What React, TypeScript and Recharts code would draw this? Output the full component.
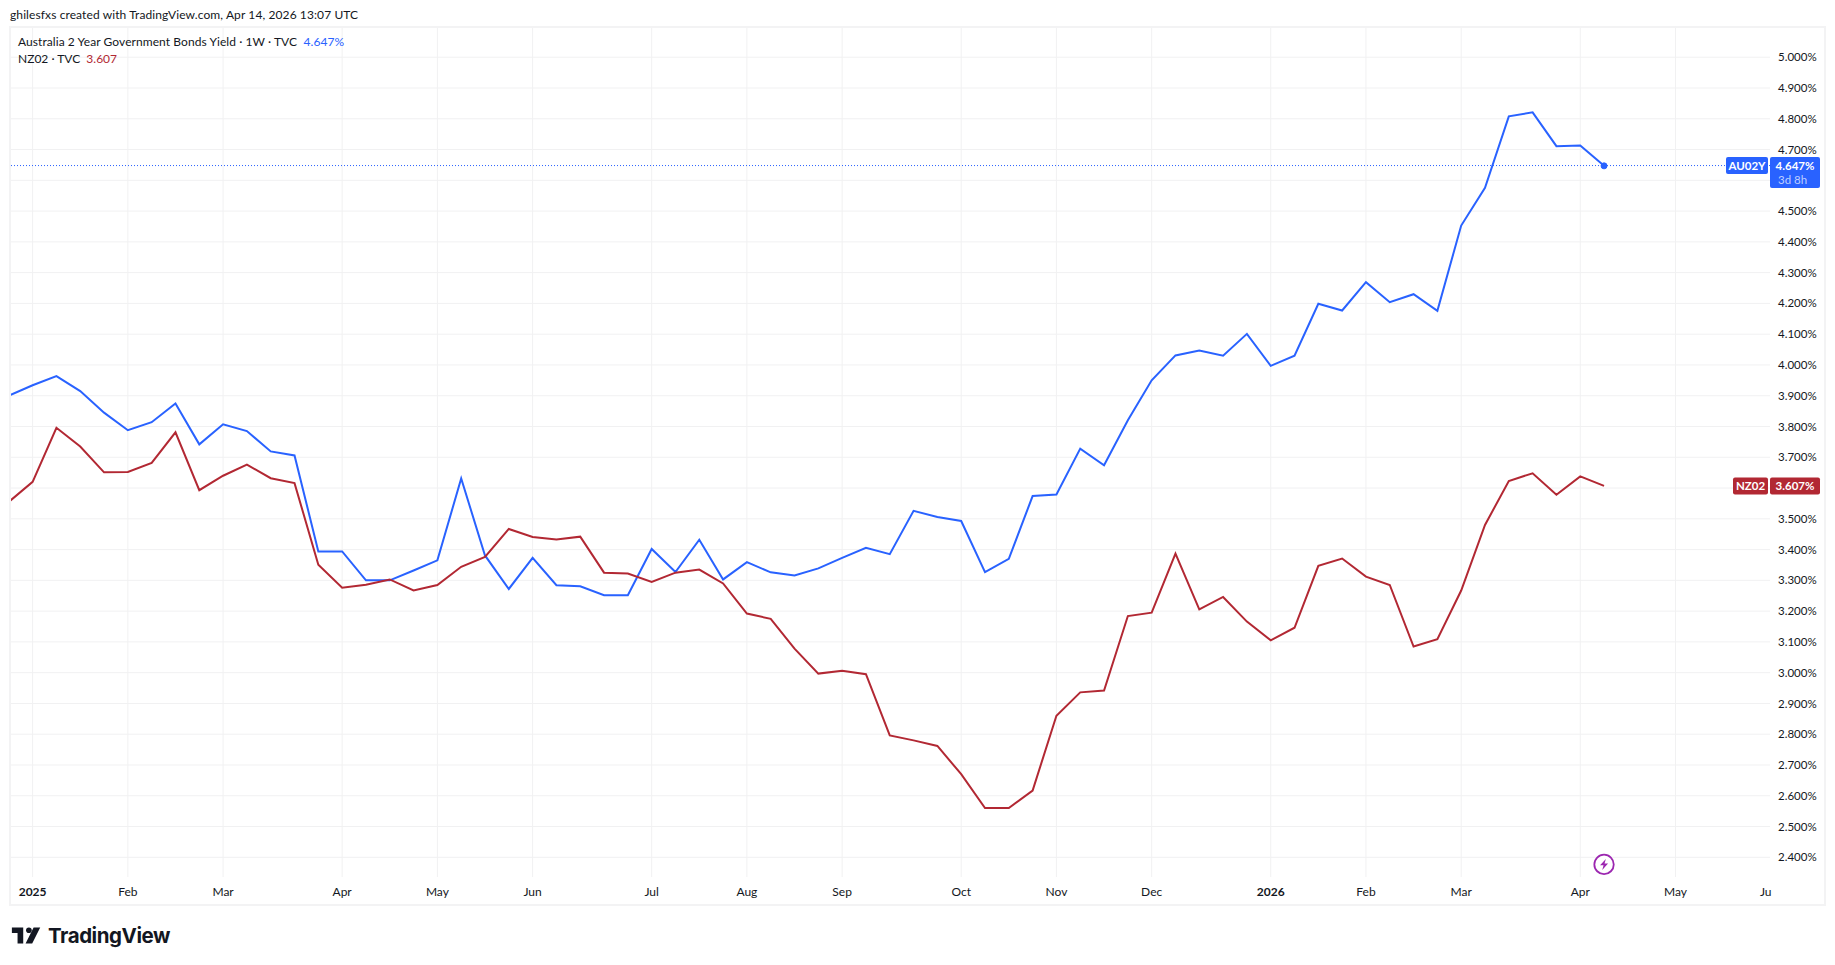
import React from 'react';
import {
  LineChart,
  Line,
  XAxis,
  YAxis,
  CartesianGrid,
  ReferenceLine,
  ReferenceDot,
} from 'recharts';

const au02y = [
  3.9, 3.934, 3.964, 3.915, 3.845, 3.788, 3.814, 3.875, 3.742, 3.807, 3.785, 3.719, 3.706, 3.394,
  3.394, 3.3, 3.3, 3.332, 3.365, 3.631, 3.381, 3.272, 3.373, 3.284, 3.281, 3.252, 3.252, 3.402,
  3.327, 3.432, 3.303, 3.359, 3.326, 3.316, 3.339, 3.373, 3.406, 3.385, 3.526, 3.506, 3.493, 3.327,
  3.37, 3.574, 3.579, 3.728, 3.674, 3.82, 3.95, 4.031, 4.047, 4.03, 4.101, 3.997, 4.03, 4.199,
  4.177, 4.269, 4.204, 4.23, 4.176, 4.453, 4.576, 4.808, 4.821, 4.711, 4.713, 4.647,
];

const nz02 = [
  3.555, 3.62, 3.796, 3.735, 3.651, 3.652, 3.682, 3.781, 3.593, 3.64, 3.676, 3.632, 3.616, 3.351,
  3.276, 3.286, 3.303, 3.267, 3.285, 3.344, 3.376, 3.467, 3.441, 3.433, 3.442, 3.325, 3.322, 3.295,
  3.325, 3.335, 3.29, 3.192, 3.175, 3.078, 2.997, 3.006, 2.995, 2.796, 2.78, 2.762, 2.67, 2.56,
  2.56, 2.617, 2.86, 2.936, 2.942, 3.184, 3.195, 3.387, 3.206, 3.246, 3.166, 3.105, 3.146, 3.347,
  3.371, 3.312, 3.285, 3.085, 3.109, 3.267, 3.48, 3.623, 3.648, 3.578, 3.638, 3.607,
];

// week index of each month label on the time axis
const monthWeeks = [1, 5, 9, 14, 18, 22, 27, 31, 35, 40, 44, 48, 53, 57, 61, 66, 70, 74];
const monthLabels = ['2025', 'Feb', 'Mar', 'Apr', 'May', 'Jun', 'Jul', 'Aug', 'Sep', 'Oct', 'Nov', 'Dec', '2026', 'Feb', 'Mar', 'Apr', 'May', 'Ju'];

const yieldTicks = [
  2.4, 2.5, 2.6, 2.7, 2.8, 2.9, 3.0, 3.1, 3.2, 3.3, 3.4, 3.5, 3.6, 3.7, 3.8, 3.9, 4.0, 4.1, 4.2, 4.3,
  4.4, 4.5, 4.6, 4.7, 4.8, 4.9, 5.0,
];
// these two labels sit behind the price badges in the reference
const hiddenTickLabels = [3.6, 4.6];

const BLUE = '#2962FF';
const RED = '#B22833';
const GRID = '#F1F1F2';
const FRAME = '#F3F3F4';
const INK = '#131722';
const FONT = 'Lato, "Noto Sans", sans-serif';

const data = au02y.map((au, week) => ({ week, au, nz: nz02[week] }));
const lastAu = au02y[au02y.length - 1];
const lastNz = nz02[nz02.length - 1];
const lastWeek = au02y.length - 1;

const MonthTick = ({ x, y, payload }: any) => {
  const label = monthLabels[monthWeeks.indexOf(payload.value)];
  const clipped = label === 'Ju';
  return (
    <text
      x={clipped ? x - 5 : x}
      y={y}
      textAnchor="middle"
      dominantBaseline="central"
      fontFamily={FONT}
      fontSize={12}
      fontWeight={label.length === 4 ? 700 : 400}
      fill={INK}
    >
      {label}
    </text>
  );
};

const PriceBadge = ({ viewBox, name, value, color, countdown, nameLeft }: any) => {
  const cy = viewBox.y;
  const h = 17;
  return (
    <g fontFamily={FONT} fontSize={11.5}>
      <rect x={nameLeft} y={cy - h / 2} width={1768 - nameLeft} height={h} rx={2} fill={color} />
      <text x={(nameLeft + 1768) / 2} y={cy} textAnchor="middle" dominantBaseline="central" fill="#fff" fontWeight={700}>
        {name}
      </text>
      <rect x={1770} y={cy - h / 2} width={50} height={countdown ? 31 : h} rx={2} fill={color} />
      <text x={1795} y={cy} textAnchor="middle" dominantBaseline="central" fill="#fff" fontWeight={700}>
        {value}
      </text>
      {countdown && (
        <text x={1778} y={cy + 14} dominantBaseline="central" fill="#fff" fillOpacity={0.7}>
          {countdown}
        </text>
      )}
    </g>
  );
};

const BoltIcon = ({ cx, cy }: any) => (
  <g>
    <circle cx={cx} cy={cy} r={9.7} fill="#fff" stroke="#9C27B0" strokeWidth={1.8} />
    <path
      d={`M${cx + 1.8} ${cy - 5.5} L${cx - 4} ${cy + 0.9} L${cx - 0.5} ${cy + 0.9} L${cx - 1.8} ${cy + 5.5} L${cx + 4} ${cy - 0.9} L${cx + 0.5} ${cy - 0.9} Z`}
      fill="#9C27B0"
    />
  </g>
);

const textAt = (left: number, top: number): React.CSSProperties => ({
  position: 'absolute',
  left,
  top,
  fontFamily: FONT,
  fontSize: 12,
  lineHeight: '16px',
  color: INK,
  whiteSpace: 'pre',
});

export default function App() {
  return (
    <div style={{ position: 'absolute', left: 0, top: 0, width: 1835, height: 965, background: '#fff', overflow: 'hidden' }}>
      <div style={{ ...textAt(10, 7), letterSpacing: 0.1 }}>ghilesfxs created with TradingView.com, Apr 14, 2026 13:07 UTC</div>

      <LineChart
        width={1835}
        height={965}
        data={data}
        margin={{ top: 28, right: 10, bottom: 61, left: 10 }}
      >
        <CartesianGrid stroke={GRID} verticalValues={monthWeeks.slice(0, -1)} horizontalValues={yieldTicks} />
        <XAxis
          dataKey="week"
          type="number"
          domain={[0.05, 73.97]}
          allowDataOverflow
          ticks={monthWeeks}
          interval={0}
          height={27}
          axisLine={false}
          tickLine={false}
          tick={<MonthTick />}
          tickMargin={8}
        />
        <YAxis
          orientation="right"
          type="number"
          domain={[2.336, 5.095]}
          allowDataOverflow
          ticks={yieldTicks}
          interval={0}
          width={55}
          axisLine={false}
          tickLine={false}
          tickMargin={2}
          tickFormatter={(v: number) => (hiddenTickLabels.includes(v) ? '' : `${v.toFixed(3)}%`)}
          tick={{ fontFamily: FONT, fontSize: 11.5, fill: INK }}
        />
        <Line dataKey="au" stroke={BLUE} strokeWidth={2} dot={false} type="linear" isAnimationActive={false} />
        <Line dataKey="nz" stroke={RED} strokeWidth={2} dot={false} type="linear" isAnimationActive={false} />
        <ReferenceDot x={lastWeek} y={lastAu} r={3} fill={BLUE} stroke={BLUE} />
        <ReferenceDot x={lastWeek} y={2.377} shape={<BoltIcon />} />
        <ReferenceLine
          y={4.648}
          stroke={BLUE}
          strokeDasharray="1 2"
          label={(p: any) => (
            <PriceBadge {...p} name="AU02Y" value={`${lastAu.toFixed(3)}%`} color={BLUE} countdown="3d 8h" nameLeft={1726} />
          )}
        />
        <ReferenceLine
          y={lastNz}
          stroke="none"
          label={(p: any) => (
            <PriceBadge {...p} name="NZ02" value={`${lastNz.toFixed(3)}%`} color={RED} nameLeft={1733} />
          )}
        />
      </LineChart>

      <div
        style={{
          position: 'absolute',
          left: 9,
          top: 26,
          width: 1817,
          height: 880,
          boxSizing: 'border-box',
          border: `2px solid ${FRAME}`,
          pointerEvents: 'none',
        }}
      />

      <div style={{ ...textAt(18, 34), letterSpacing: 0.07 }}>
        Australia 2 Year Government Bonds Yield · 1W · TVC{'  '}
        <span style={{ color: BLUE }}>{lastAu.toFixed(3)}%</span>
      </div>
      <div style={textAt(18, 51)}>
        NZ02 · TVC{'  '}
        <span style={{ color: RED }}>{lastNz.toFixed(3)}</span>
      </div>

      <svg style={{ position: 'absolute', left: 10, top: 923 }} width={34} height={24} viewBox="0 0 36 24">
        <path d="M14 4H2v6h6v11h6V4Z M23.5 21H16.5L25 4h7L23.5 21Z" fill={INK} />
        <circle cx={20} cy={7} r={3} fill={INK} />
      </svg>
      <div style={{ ...textAt(48, 922), fontFamily: 'Inter, sans-serif', fontSize: 20.5, fontWeight: 700, lineHeight: '28px', letterSpacing: -0.45 }}>
        TradingView
      </div>
    </div>
  );
}
